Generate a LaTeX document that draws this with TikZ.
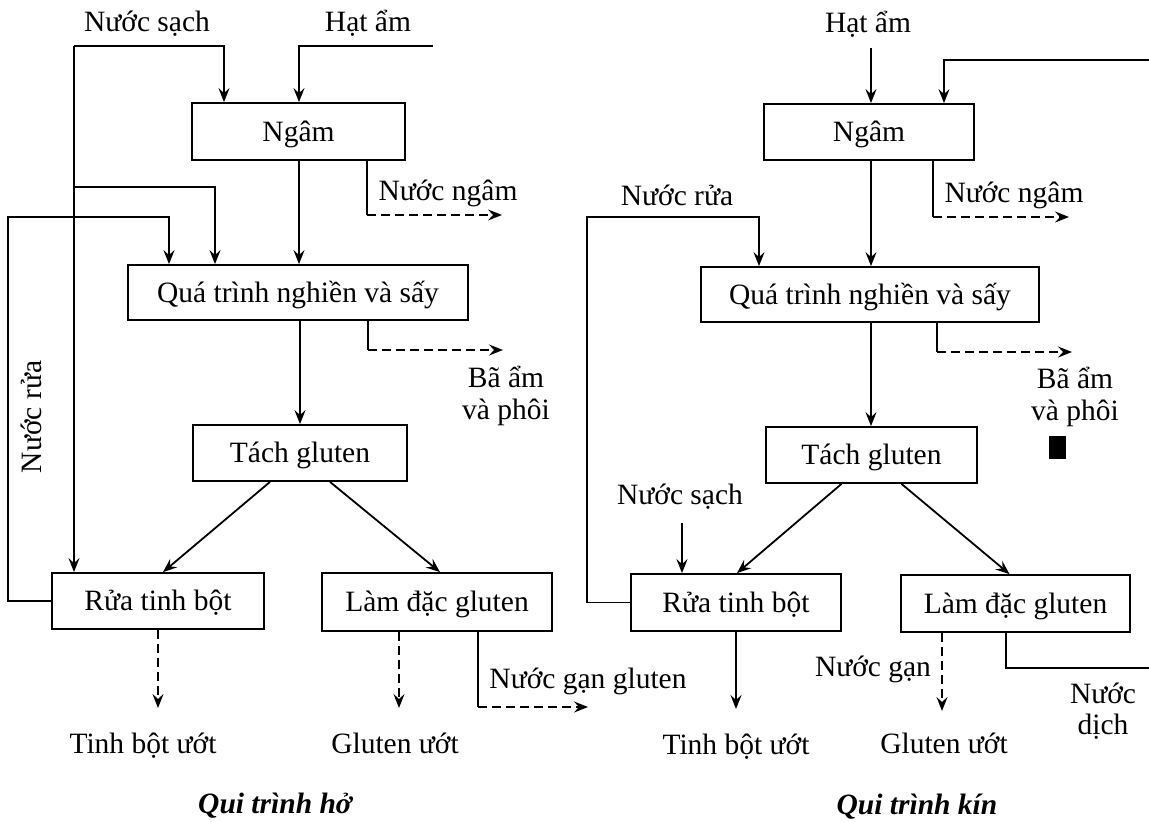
\documentclass[tikz,border=0pt]{standalone}
\usepackage{fontspec}
\setmainfont{Liberation Serif}
\usetikzlibrary{arrows.meta,calc}
\begin{document}
\begin{tikzpicture}[x=1pt,y=-1pt,
  every node/.style={font=\fontsize{29.5}{33}\selectfont, inner sep=0pt},
  lbl/.style={anchor=base},
  ttl/.style={anchor=base, font=\fontsize{29.5}{33}\selectfont\bfseries\itshape},
  box/.style={draw, line width=1.8pt, text height=21.2pt, text depth=1.5pt, minimum height=56pt},
  ln/.style={line width=1.8pt},
  flow/.style={ln, -{Stealth[length=14pt,width=11pt,inset=5pt]}},
  dflow/.style={flow, dash pattern=on 9pt off 5pt},
]
\useasboundingbox[fill=white] (0,0) rectangle (1149,822);

% ---------------- left: Qui trinh ho ----------------
\node[box, minimum width=213pt, minimum height=57pt] (NgamL) at (298.5,131.5) {Ngâm};
\node[box, minimum width=340pt, minimum height=55pt] (QuaL) at (298,292.5) {Quá trình nghiền và sấy};
\node[box, minimum width=214pt] (TachL) at (300,453) {Tách gluten};
\node[box, minimum width=212pt] (RuaL) at (158,601) {Rửa tinh bột};
\node[box, minimum width=230pt, minimum height=58pt] (LamL) at (437,602) {Làm đặc gluten};

\coordinate (nsA) at (74,46);
\coordinate (nsB) at (224,46);
\coordinate (nsC) at (74,187);
\coordinate (nsD) at (215,187);
\coordinate (haA) at (433,46);
\coordinate (haB) at (299,46);
\coordinate (nnA) at (367,215);
\coordinate (nnB) at (502,215);
\coordinate (nrA) at (8,217);
\coordinate (nrB) at (169,217);
\coordinate (baA) at (368,350);
\coordinate (baB) at (503,350);
\coordinate (tbL) at (158,708);
\coordinate (glL) at (399,708);
\coordinate (ngA) at (478,707);
\coordinate (ngB) at (588,707);

\draw[flow] (nsA) -- (nsA |- RuaL.north);
\draw[flow] (nsA) -- (nsB) -- (nsB |- NgamL.north);
\draw[flow] (nsC) -- (nsD) -- (nsD |- QuaL.north);
\draw[flow] (haA) -- (haB) -- (haB |- NgamL.north);
\draw[flow] (NgamL.south -| haB) -- (haB |- QuaL.north);
\draw[ln] (nnA |- NgamL.south) -- (nnA);
\draw[dflow] (nnA) -- (nnB);
\draw[flow] (RuaL.west) -| (nrA) -- (nrB) -- (nrB |- QuaL.north);
\draw[flow] (QuaL.south -| TachL.north) -- (TachL.north);
\draw[ln] (baA |- QuaL.south) -- (baA);
\draw[dflow] (baA) -- (baB);
\draw[flow] ($(TachL.south)+(-30,0)$) -- ($(RuaL.north)+(5,0)$);
\draw[flow] ($(TachL.south)+(30,0)$) -- ($(LamL.north)+(3,0)$);
\draw[dflow] (tbL |- RuaL.south) -- (tbL);
\draw[dflow] (glL |- LamL.south) -- (glL);
\draw[ln] (ngA |- LamL.south) -- (ngA);
\draw[dflow] (ngA) -- (ngB);

\node[lbl] (tNsL) at (147,31) {Nước sạch};
\node[lbl] (tHaL) at (368,31) {Hạt ẩm};
\node[lbl] (tNnL) at (448,200) {Nước ngâm};
\node[lbl] (tBaL1) at (506,387) {Bã ẩm};
\node[lbl] (tBaL2) at (506,419) {và phôi};
\node[rotate=90] (tNrL) at (31,417) {Nước rửa};
\node[lbl] (tTbL) at (143,753) {Tinh bột ướt};
\node[lbl] (tGlL) at (395,753) {Gluten ướt};
\node[lbl] (tNgL) at (588,688) {Nước gạn gluten};
\node[ttl] (tQL) at (275,813) {Qui trình hở};

% ---------------- right: Qui trinh kin ----------------
\node[box, minimum width=210pt] (NgamR) at (869,132) {Ngâm};
\node[box, minimum width=338pt, minimum height=55pt] (QuaR) at (870,294.5) {Quá trình nghiền và sấy};
\node[box, minimum width=211pt] (TachR) at (871.5,455) {Tách gluten};
\node[box, minimum width=210pt, minimum height=57pt] (RuaR) at (736,602.5) {Rửa tinh bột};
\node[box, minimum width=229pt, minimum height=57pt] (LamR) at (1015.5,603.5) {Làm đặc gluten};

\coordinate (haR) at (871,48);
\coordinate (lpA) at (1149,60);
\coordinate (lpB) at (944,60);
\coordinate (nnRA) at (933,217);
\coordinate (nnRB) at (1069,217);
\coordinate (nrRA) at (587,217);
\coordinate (nrRB) at (759,217);
\coordinate (baRA) at (937,352);
\coordinate (baRB) at (1072,352);
\coordinate (nsR) at (682,523);
\coordinate (tbR) at (736,709);
\coordinate (glR) at (942,711);
\coordinate (ndA) at (1006,668);
\coordinate (ndB) at (1149,668);

\draw[flow] (haR) -- (haR |- NgamR.north);
\draw[flow] (lpA) -- (lpB) -- (lpB |- NgamR.north);
\draw[flow] (NgamR.south -| haR) -- (haR |- QuaR.north);
\draw[ln] (nnRA |- NgamR.south) -- (nnRA);
\draw[dflow] (nnRA) -- (nnRB);
\draw[flow] (RuaR.west) -| (nrRA) -- (nrRB) -- (nrRB |- QuaR.north);
\draw[flow] (QuaR.south -| haR) -- (haR |- TachR.north);
\draw[ln] (baRA |- QuaR.south) -- (baRA);
\draw[dflow] (baRA) -- (baRB);
\draw[flow] ($(TachR.south)+(-30,0)$) -- ($(RuaR.north)+(1,0)$);
\draw[flow] ($(TachR.south)+(30,0)$) -- ($(LamR.north)+(-6,0)$);
\draw[flow] (nsR) -- (nsR |- RuaR.north);
\draw[flow] (tbR |- RuaR.south) -- (tbR);
\draw[dflow] (glR |- LamR.south) -- (glR);
\draw[ln] (ndA |- LamR.south) -- (ndA) -- (ndB);

\fill (1049,436) rectangle (1066,459);

\node[lbl] (tHaR) at (868,32) {Hạt ẩm};
\node[lbl] (tNnR) at (1014,202) {Nước ngâm};
\node[lbl] (tNrR) at (677,205) {Nước rửa};
\node[lbl] (tBaR1) at (1075,388) {Bã ẩm};
\node[lbl] (tBaR2) at (1075,420) {và phôi};
\node[lbl] (tNsR) at (680,504) {Nước sạch};
\node[lbl] (tTbR) at (736,754) {Tinh bột ướt};
\node[lbl] (tNgR) at (873,676) {Nước gạn};
\node[lbl] (tGlR) at (944,753) {Gluten ướt};
\node[lbl] (tNdR1) at (1103,703) {Nước};
\node[lbl] (tNdR2) at (1103,734) {dịch};
\node[ttl] (tQR) at (917,814) {Qui trình kín};
\end{tikzpicture}
\end{document}
